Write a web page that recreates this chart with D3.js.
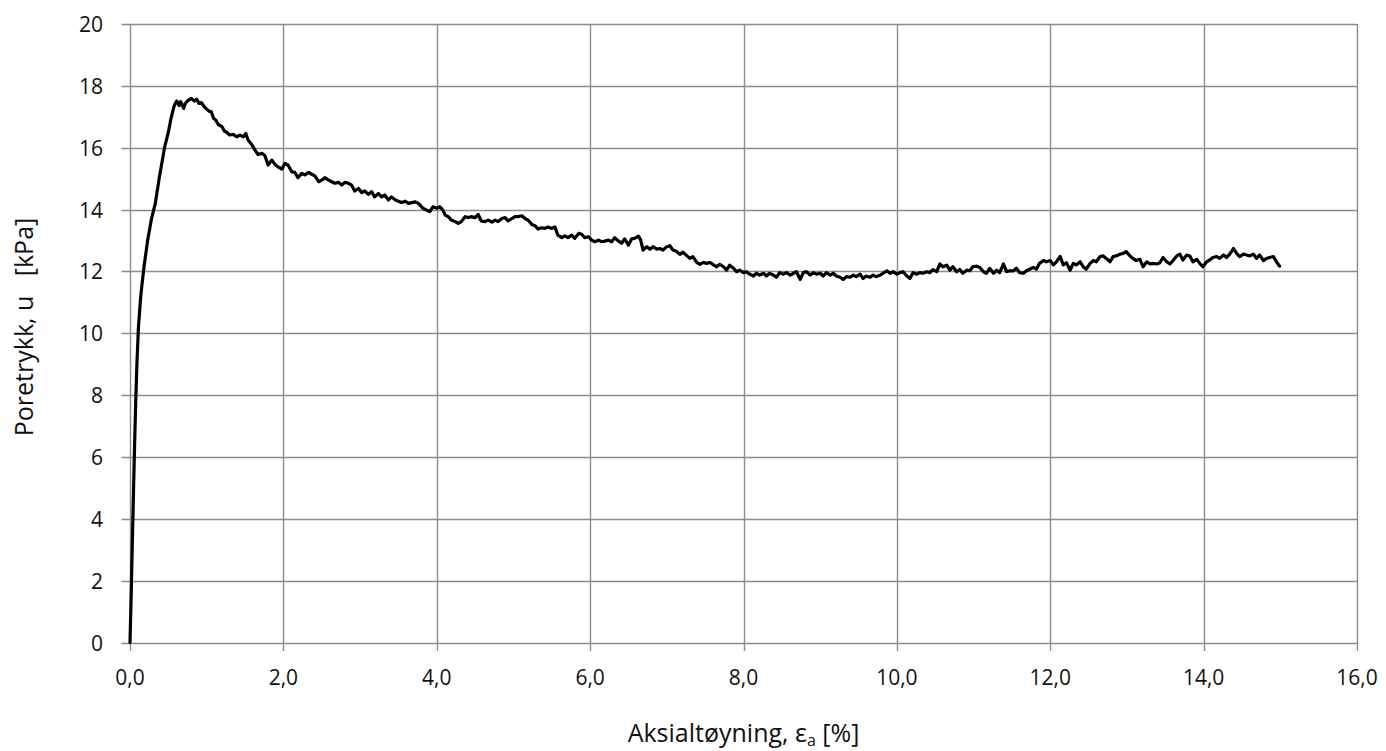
<!DOCTYPE html>
<html>
<head>
<meta charset="utf-8">
<script src="https://cdn.jsdelivr.net/npm/d3@7/dist/d3.min.js"></script>
<style>
  html, body { margin: 0; padding: 0; background: #fff; }
  svg { display: block; }
  text { font-family: "Open Sans", "Liberation Sans", sans-serif; fill: #111; }
</style>
</head>
<body>
<svg id="chart" width="1386" height="751"></svg>
<script>
// Axial strain [%] measured during the triaxial test
const strain = [
  0, 0.015, 0.03, 0.045, 0.06, 0.075, 0.09, 0.11, 0.14, 0.18, 0.23, 0.28, 0.33, 0.38, 0.45, 0.50, 0.535, 0.57,
  0.59, 0.61, 0.64, 0.66, 0.70, 0.72, 0.76, 0.80, 0.84, 0.87, 0.90, 0.93, 0.97, 1.00, 1.03, 1.06, 1.09, 1.12,
  1.15, 1.20, 1.23, 1.26, 1.30, 1.35, 1.39, 1.43, 1.48, 1.51, 1.54, 1.59, 1.63, 1.67, 1.72, 1.76, 1.80, 1.85,
  1.89, 1.93, 1.98, 2.02, 2.06, 2.11, 2.15, 2.19, 2.24, 2.28, 2.33, 2.37, 2.41, 2.46, 2.50, 2.54, 2.59, 2.63,
  2.67, 2.72, 2.76, 2.80, 2.85, 2.89, 2.93, 2.98, 3.02, 3.06, 3.11, 3.15, 3.19, 3.24, 3.28, 3.32, 3.37, 3.41,
  3.46, 3.50, 3.54, 3.59, 3.63, 3.72, 3.76,
  3.78, 3.82, 3.87, 3.91, 3.95, 4.00, 4.04, 4.08, 4.11, 4.15, 4.19, 4.24, 4.28, 4.32, 4.37, 4.41, 4.45, 4.50,
  4.54, 4.58, 4.63, 4.67, 4.72, 4.76, 4.80, 4.85, 4.89, 4.93, 4.98, 5.02, 5.06, 5.11, 5.15, 5.19, 5.24, 5.28,
  5.32, 5.37, 5.41, 5.45, 5.50, 5.54, 5.58, 5.63, 5.67, 5.71, 5.76, 5.80, 5.85, 5.89, 5.93, 5.98, 6.02, 6.06,
  6.11, 6.15, 6.19, 6.24, 6.28, 6.32, 6.37, 6.41, 6.45, 6.50, 6.54, 6.58, 6.63, 6.66, 6.69, 6.74, 6.78, 6.82,
  6.87, 6.91, 6.95, 7.00, 7.04, 7.08, 7.13, 7.17, 7.21, 7.26, 7.30, 7.34, 7.39, 7.43, 7.48, 7.52, 7.56, 7.61,
  7.65, 7.69,
  7.74, 7.78, 7.82, 7.87, 7.91, 7.95, 8.00, 8.04, 8.08, 8.13, 8.17, 8.21, 8.26, 8.30, 8.34, 8.39, 8.43, 8.47,
  8.52, 8.56, 8.61, 8.65, 8.69, 8.74, 8.78, 8.82, 8.87, 8.91, 8.95, 9.00, 9.04, 9.08, 9.13, 9.17, 9.21, 9.26,
  9.30, 9.34, 9.39, 9.43, 9.47, 9.52, 9.56, 9.60, 9.65, 9.69, 9.73, 9.78, 9.82, 9.87, 9.91, 9.95, 10.00, 10.04,
  10.08, 10.13, 10.17, 10.21, 10.26, 10.30, 10.34, 10.39, 10.43, 10.47, 10.52, 10.56, 10.60, 10.65, 10.69,
  10.73, 10.78, 10.82, 10.86, 10.91, 10.95, 10.99, 11.04, 11.08, 11.13, 11.17, 11.21, 11.26, 11.30, 11.34,
  11.39, 11.43, 11.47,
  11.52, 11.56, 11.60, 11.65, 11.69, 11.73, 11.78, 11.82, 11.86, 11.91, 11.95, 12.00, 12.04, 12.08, 12.13,
  12.17, 12.21, 12.26, 12.30, 12.34, 12.39, 12.43, 12.47, 12.52, 12.56, 12.60, 12.65, 12.69, 12.73, 12.78,
  12.82, 12.86, 12.91, 12.95, 12.99, 13.04, 13.08, 13.12, 13.17, 13.21, 13.26, 13.30, 13.34, 13.39, 13.43,
  13.47, 13.52, 13.56, 13.60, 13.65, 13.69, 13.73, 13.78, 13.82, 13.86, 13.91, 13.95, 13.99, 14.04, 14.08,
  14.12, 14.17, 14.21, 14.26, 14.30, 14.34, 14.39, 14.43, 14.47, 14.52, 14.56, 14.60, 14.65, 14.69, 14.73,
  14.78, 14.82, 14.86, 14.91, 14.95, 14.99
];

// Pore pressure u [kPa] at each strain reading
const porePressure = [
  0, 1.5, 3.2, 4.8, 6.4, 7.8, 9.0, 10.2, 11.2, 12.1, 13.0, 13.7, 14.2, 15.0, 16.0, 16.5, 16.95, 17.3,
  17.43, 17.51, 17.36, 17.49, 17.27, 17.43, 17.54, 17.59, 17.51, 17.57, 17.43, 17.46, 17.32, 17.25, 17.18, 17.16, 16.95, 16.89,
  16.75, 16.68, 16.54, 16.50, 16.41, 16.43, 16.35, 16.41, 16.35, 16.46, 16.25, 16.09, 15.92, 15.78, 15.82, 15.74, 15.44, 15.60,
  15.46, 15.38, 15.31, 15.49, 15.44, 15.22, 15.20, 15.03, 15.17, 15.12, 15.20, 15.14, 15.09, 14.90, 14.95, 15.03, 14.95, 14.90,
  14.85, 14.88, 14.79, 14.88, 14.85, 14.79, 14.60, 14.68, 14.55, 14.60, 14.49, 14.58, 14.41, 14.52, 14.41, 14.47, 14.31, 14.41,
  14.31, 14.27, 14.23, 14.27, 14.20, 14.25, 14.20,
  14.15, 14.04, 13.98, 13.93, 14.09, 14.04, 14.09, 13.98, 13.82, 13.77, 13.66, 13.61, 13.55, 13.61, 13.77, 13.74, 13.77, 13.74,
  13.84, 13.63, 13.61, 13.66, 13.59, 13.66, 13.61, 13.71, 13.74, 13.63, 13.71, 13.77, 13.77, 13.80, 13.71, 13.66, 13.52, 13.48,
  13.37, 13.41, 13.39, 13.44, 13.39, 13.44, 13.17, 13.09, 13.15, 13.09, 13.17, 13.07, 13.23, 13.20, 13.09, 13.12, 13.01, 12.96,
  13.01, 12.96, 12.98, 13.01, 12.96, 13.09, 12.98, 12.91, 13.05, 12.85, 13.05, 13.07, 13.14, 13.01, 12.69, 12.80, 12.72, 12.80,
  12.72, 12.74, 12.69, 12.80, 12.83, 12.69, 12.64, 12.55, 12.62, 12.51, 12.42, 12.48, 12.29, 12.23, 12.29, 12.26, 12.29, 12.21,
  12.15, 12.23,
  12.15, 12.04, 12.20, 12.10, 11.99, 12.04, 11.96, 11.99, 11.91, 11.85, 11.94, 11.88, 11.94, 11.85, 11.94, 11.88, 11.81, 11.96,
  11.91, 11.96, 11.88, 11.94, 11.99, 11.74, 11.96, 11.99, 11.88, 11.96, 11.91, 11.94, 11.85, 11.96, 11.88, 11.94, 11.85, 11.81,
  11.74, 11.83, 11.81, 11.88, 11.83, 11.91, 11.77, 11.85, 11.81, 11.88, 11.83, 11.88, 11.94, 12.02, 11.94, 11.99, 11.91, 11.96,
  11.99, 11.85, 11.77, 11.96, 11.91, 11.96, 11.94, 11.99, 11.96, 12.06, 11.99, 12.24, 12.15, 12.20, 12.04,
  12.15, 11.99, 12.06, 11.94, 12.04, 12.02, 12.15, 12.17, 12.13, 11.99, 11.94, 12.10, 11.94, 12.04, 11.96,
  12.24, 11.99, 12.02,
  12.02, 12.10, 11.96, 11.94, 12.02, 12.07, 12.13, 12.07, 12.26, 12.35, 12.31, 12.35, 12.21, 12.31, 12.48,
  12.21, 12.28, 12.04, 12.26, 12.21, 12.31, 12.15, 12.07, 12.26, 12.35, 12.31, 12.48, 12.50, 12.42, 12.31,
  12.48, 12.50, 12.56, 12.58, 12.64, 12.50, 12.42, 12.35, 12.39, 12.15, 12.31, 12.24, 12.26, 12.24, 12.28,
  12.45, 12.31, 12.24, 12.35, 12.50, 12.56, 12.37, 12.53, 12.50, 12.31, 12.39, 12.26, 12.15, 12.31, 12.37,
  12.45, 12.48, 12.42, 12.53, 12.45, 12.56, 12.74, 12.58, 12.48, 12.56, 12.53, 12.50, 12.56, 12.42, 12.53,
  12.35, 12.42, 12.45, 12.48, 12.31, 12.17
];

// Tick values and their labels
const xTicks = [0, 2, 4, 6, 8, 10, 12, 14, 16];
const xTickLabels = ["0,0", "2,0", "4,0", "6,0", "8,0", "10,0", "12,0", "14,0", "16,0"];
const yTicks = [0, 2, 4, 6, 8, 10, 12, 14, 16, 18, 20];

const xTitle = "Aksialtøyning, ε";
const xTitleSub = "a";
const xTitleTail = " [%]";
const yTitle = "Poretrykk, u\u00a0\u00a0 [kPa]";

const svg = d3.select("#chart");
const plot = { left: 130, right: 1357, top: 24, bottom: 642.5 };
const tickLen = 8.5;

const x = d3.scaleLinear().domain([0, 16]).range([plot.left, plot.right]);
const y = d3.scaleLinear().domain([0, 20]).range([plot.bottom, plot.top]);

const gridColor = "#8c8c8c";

// Horizontal gridlines (extending left as tick marks)
svg.append("g").selectAll("line").data(yTicks).join("line")
  .attr("x1", plot.left - tickLen).attr("x2", plot.right)
  .attr("y1", d => Math.round(y(d)) + 0.5).attr("y2", d => Math.round(y(d)) + 0.5)
  .attr("stroke", gridColor).attr("stroke-width", 1.4);

// Vertical gridlines (extending down as tick marks)
svg.append("g").selectAll("line").data(xTicks).join("line")
  .attr("x1", d => Math.round(x(d)) + 0.5).attr("x2", d => Math.round(x(d)) + 0.5)
  .attr("y1", plot.top).attr("y2", plot.bottom + tickLen)
  .attr("stroke", gridColor).attr("stroke-width", 1.4);

// Y tick labels
svg.append("g").selectAll("text").data(yTicks).join("text")
  .attr("x", 103).attr("y", d => y(d) + 8)
  .attr("text-anchor", "end")
  .attr("font-size", 21)
  .text(d => d);

// X tick labels
svg.append("g").selectAll("text").data(xTicks).join("text")
  .attr("x", d => x(d)).attr("y", 685)
  .attr("text-anchor", "middle")
  .attr("font-size", 21)
  .text((d, i) => xTickLabels[i]);

// Data curve
const points = strain.map((s, i) => [s, porePressure[i]]);
const line = d3.line().x(d => x(d[0])).y(d => y(d[1]));
svg.append("path")
  .datum(points)
  .attr("d", line)
  .attr("fill", "none")
  .attr("stroke", "#000")
  .attr("stroke-width", 3.2)
  .attr("stroke-linejoin", "round")
  .attr("stroke-linecap", "round");

// Axis titles
const xt = svg.append("text")
  .attr("x", (plot.left + plot.right) / 2).attr("y", 742)
  .attr("text-anchor", "middle")
  .attr("font-size", 25);
xt.append("tspan").text(xTitle);
xt.append("tspan").attr("font-size", 16).attr("dy", 4).text(xTitleSub);
xt.append("tspan").attr("dy", -4).text(xTitleTail);

svg.append("text")
  .attr("transform", "translate(33, 327) rotate(-90)")
  .attr("text-anchor", "middle")
  .attr("font-size", 25)
  .text(yTitle);
</script>
</body>
</html>
